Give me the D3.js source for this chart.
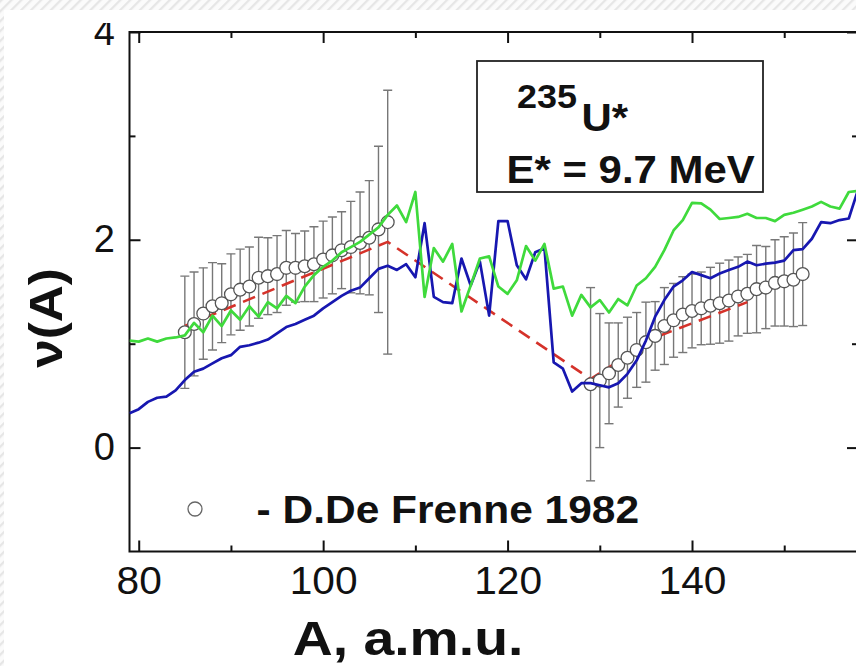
<!DOCTYPE html>
<html><head><meta charset="utf-8">
<script src="https://cdn.jsdelivr.net/npm/d3@7"></script>
<style>
html,body{margin:0;padding:0;background:#fff;}
svg{display:block;font-family:"Liberation Sans",Arial,Helvetica,sans-serif;}
</style></head><body>
<svg id="chart" width="856" height="666"></svg>
<script>
// Fragment mass number grid for the calculated curves
const massCalc = [79,80,81,82,83,84,85,86,87,88,89,90,91,92,93,94,95,96,97,98,
  99,100,101,102,103,104,105,106,107,108,109,110,111,112,113,114,115,116,117,118,
  119,120,121,122,123,124,125,126,127,128,129,130,131,132,133,134,135,136,137,138,
  139,140,141,142,143,144,145,146,147,148,149,150,151,152,153,154,155,156,157,158];
// Calculated nu(A), blue curve
const nuBlue = [0.33,0.37,0.44,0.48,0.49,0.55,0.65,0.73,0.76,0.81,
  0.86,0.89,0.97,0.985,1.01,1.04,1.10,1.16,1.19,1.23,
  1.27,1.34,1.40,1.46,1.51,1.54,1.63,1.72,1.75,1.71,
  1.765,1.64,2.16,1.45,1.40,1.39,1.82,1.56,1.79,1.27,
  2.18,2.18,1.755,1.62,1.88,1.92,0.82,0.76,0.54,0.62,
  0.62,0.60,0.58,0.62,0.71,0.84,1.03,1.26,1.42,1.55,
  1.61,1.69,1.66,1.63,1.675,1.71,1.74,1.79,1.755,1.77,
  1.78,1.80,1.90,1.91,2.01,2.17,2.16,2.19,2.205,2.48];
// Calculated nu(A), green curve
const nuGreen = [1.03,1.02,1.05,1.02,1.05,1.06,1.08,1.20,1.11,1.27,
  1.17,1.32,1.23,1.36,1.26,1.40,1.34,1.46,1.39,1.55,
  1.66,1.74,1.80,1.88,1.93,1.98,2.05,2.12,2.24,2.33,
  2.17,2.46,1.45,1.92,1.79,1.96,1.31,1.56,1.82,1.84,
  1.55,1.48,1.61,1.94,1.80,1.96,1.53,1.55,1.27,1.47,
  1.35,1.42,1.30,1.43,1.37,1.56,1.63,1.74,1.90,2.09,
  2.19,2.355,2.35,2.29,2.20,2.21,2.22,2.25,2.21,2.21,
  2.18,2.24,2.26,2.29,2.32,2.365,2.32,2.30,2.46,2.47];

// D. De Frenne 1982, light fragments
const massExpL = [85,86,87,88,89,90,91,92,93,94,95,96,97,98,99,100,101,102,103,104,105,106,107];
const nuExpL = [1.11,1.19,1.29,1.36,1.39,1.475,1.52,1.55,1.635,1.65,1.67,1.73,1.73,1.745,1.765,1.81,1.85,1.90,1.93,1.97,2.02,2.10,2.17];
const errExpL = [0.54,0.50,0.44,0.42,0.38,0.39,0.39,0.38,0.39,0.37,0.37,0.36,0.33,0.34,0.36,0.37,0.37,0.37,0.44,0.49,0.55,0.80,1.27];
// D. De Frenne 1982, heavy fragments
const massExpH = [129,130,131,132,133,134,135,136,137,138,139,140,141,142,143,144,145,146,147,148,149,150,151,152];
const nuExpH = [0.61,0.645,0.715,0.795,0.865,0.94,1.015,1.075,1.17,1.225,1.28,1.315,1.34,1.365,1.39,1.415,1.455,1.48,1.525,1.54,1.585,1.60,1.615,1.67];
const errExpH = [0.93,0.645,0.485,0.405,0.39,0.36,0.385,0.33,0.37,0.355,0.365,0.355,0.35,0.37,0.385,0.39,0.38,0.38,0.42,0.395,0.415,0.43,0.45,0.495];

// Dashed guide (saw-tooth trend)
const massGuide = [85,107,129,136,146];
const nuGuide = [1.17,1.98,0.66,1.06,1.40];

// Axis ticks
const xMajor = [80,100,120,140];
const xMinor = [90,110,130,150];
const yMajor = [0,2,4];
const yMinor = [1,3];

const W = 856, H = 666;
const svg = d3.select("#chart");
const defs = svg.append("defs");

// hatched page border
const pat = defs.append("pattern").attr("id","hatch")
  .attr("width",7).attr("height",7).attr("patternUnits","userSpaceOnUse")
  .attr("patternTransform","rotate(45)");
pat.append("rect").attr("width",7).attr("height",7).attr("fill","#fbfbfb");
pat.append("line").attr("x1",1).attr("y1",0).attr("x2",1).attr("y2",7)
  .attr("stroke","#e6e6e6").attr("stroke-width",2.5);
svg.append("rect").attr("width",W).attr("height",H).attr("fill","url(#hatch)");
svg.append("rect").attr("x",4).attr("y",10).attr("width",W-4).attr("height",H-10).attr("fill","#fff");

const x = d3.scaleLinear().domain([79,158]).range([129.5,858]);
const y = d3.scaleLinear().domain([-1,4]).range([551.5,32]);
const [x0,x1] = x.range(), [y0,y1] = [y(4), y(-1)];

defs.append("clipPath").attr("id","plotClip").append("rect")
  .attr("x",x0).attr("y",y0).attr("width",x1-x0).attr("height",y1-y0);
defs.append("clipPath").attr("id","labelClip").append("rect")
  .attr("x",-200).attr("y",23).attr("width",400).attr("height",700);

function styleAxis(g){
  g.select(".domain").remove();
  g.selectAll(".tick line").attr("stroke","#111").attr("stroke-width",2);
  g.selectAll(".tick text").attr("fill","#111").attr("font-size",38)
    .attr("font-family","'Liberation Sans',Arial,sans-serif");
}

// bottom axis
svg.append("g").attr("transform",`translate(0,${y1})`)
  .call(d3.axisBottom(x).tickValues(xMajor).tickSizeInner(-11).tickSizeOuter(0).tickPadding(16).tickFormat(d3.format("d")))
  .call(styleAxis)
  .call(g => g.selectAll(".tick text").attr("transform","scale(1.07,1)"));
svg.append("g").attr("transform",`translate(0,${y1})`)
  .call(d3.axisBottom(x).tickValues(xMinor).tickSizeInner(-6).tickSizeOuter(0).tickFormat(""))
  .call(styleAxis);
// top axis
svg.append("g").attr("transform",`translate(0,${y0})`)
  .call(d3.axisTop(x).tickValues(xMajor).tickSizeInner(-11).tickSizeOuter(0).tickFormat(""))
  .call(styleAxis);
svg.append("g").attr("transform",`translate(0,${y0})`)
  .call(d3.axisTop(x).tickValues(xMinor).tickSizeInner(-6).tickSizeOuter(0).tickFormat(""))
  .call(styleAxis);
// left axis
svg.append("g").attr("transform",`translate(${x0},0)`).attr("clip-path","url(#labelClip)")
  .call(d3.axisLeft(y).tickValues(yMajor).tickSizeInner(-11).tickSizeOuter(0).tickPadding(14.5).tickFormat(d3.format("d")))
  .call(styleAxis);
svg.append("g").attr("transform",`translate(${x0},0)`)
  .call(d3.axisLeft(y).tickValues(yMinor).tickSizeInner(-6).tickSizeOuter(0).tickFormat(""))
  .call(styleAxis);
// right axis
svg.append("g").attr("transform",`translate(${x1},0)`)
  .call(d3.axisRight(y).tickValues(yMajor).tickSizeInner(-11).tickSizeOuter(0).tickFormat(""))
  .call(styleAxis);
svg.append("g").attr("transform",`translate(${x1},0)`)
  .call(d3.axisRight(y).tickValues(yMinor).tickSizeInner(-6).tickSizeOuter(0).tickFormat(""))
  .call(styleAxis);

// frame
svg.append("rect").attr("x",x0).attr("y",y0).attr("width",x1-x0).attr("height",y1-y0)
  .attr("fill","none").attr("stroke","#111").attr("stroke-width",2);

const plot = svg.append("g").attr("clip-path","url(#plotClip)");
const line = d3.line().x(d => x(d[0])).y(d => y(d[1]));

// experimental error bars
const expPts = massExpL.map((m,i)=>({m, v:nuExpL[i], e:errExpL[i]}))
  .concat(massExpH.map((m,i)=>({m, v:nuExpH[i], e:errExpH[i]})));
const bars = plot.append("g").attr("stroke","#777").attr("stroke-width",1.4).attr("fill","none");
expPts.forEach(p => {
  const cx = x(p.m), yt = y(p.v + p.e), yb = y(p.v - p.e);
  bars.append("line").attr("x1",cx).attr("x2",cx).attr("y1",yt).attr("y2",yb);
  bars.append("line").attr("x1",cx-4.5).attr("x2",cx+4.5).attr("y1",yt).attr("y2",yt);
  bars.append("line").attr("x1",cx-4.5).attr("x2",cx+4.5).attr("y1",yb).attr("y2",yb);
});

// dashed guide
plot.append("path").datum(massGuide.map((m,i)=>[m,nuGuide[i]]))
  .attr("d",line).attr("fill","none").attr("stroke","#d5322a")
  .attr("stroke-width",2.6).attr("stroke-dasharray","13,8");

// experimental points
plot.append("g").selectAll("circle").data(expPts).join("circle")
  .attr("cx",d=>x(d.m)).attr("cy",d=>y(d.v)).attr("r",6.4)
  .attr("fill","#fff").attr("stroke","#555").attr("stroke-width",1.3);

// calculated curves
plot.append("path").datum(massCalc.map((m,i)=>[m,nuBlue[i]]))
  .attr("d",line).attr("fill","none").attr("stroke","#1717b0").attr("stroke-width",2.7)
  .attr("stroke-linejoin","round");
plot.append("path").datum(massCalc.map((m,i)=>[m,nuGreen[i]]))
  .attr("d",line).attr("fill","none").attr("stroke","#3fda3c").attr("stroke-width",2.7)
  .attr("stroke-linejoin","round");

// text helper: bold, slightly widened glyphs
function label(txt, px, py, size, opts={}){
  return svg.append("text")
    .attr("transform",`translate(${px},${py}) ${opts.rot?`rotate(${opts.rot})`:""} scale(${opts.sx||1.09},1)`)
    .attr("font-size",size).attr("font-weight",opts.weight||"bold")
    .attr("text-anchor",opts.anchor||"start").attr("fill","#111").text(txt);
}

// annotation box
svg.append("rect").attr("x",477).attr("y",61).attr("width",286).attr("height",131)
  .attr("fill","#fff").attr("stroke","#222").attr("stroke-width",1.8);
label("235", 517, 108.3, 33);
label("U*", 581.5, 130.7, 38.5);
label("E* = 9.7 MeV", 506.5, 182.7, 38.5);

// legend
svg.append("circle").attr("cx",195).attr("cy",509).attr("r",7)
  .attr("fill","#fff").attr("stroke","#666").attr("stroke-width",1.3);
label("- D.De Frenne 1982", 256.5, 523, 39);

// axis titles
label("A, a.m.u.", 408, 655, 49, {anchor:"middle", sx:1.13});
label("\u03bd(A)", 62, 318, 47, {anchor:"middle", rot:-90, sx:1.09});
</script></body></html>
